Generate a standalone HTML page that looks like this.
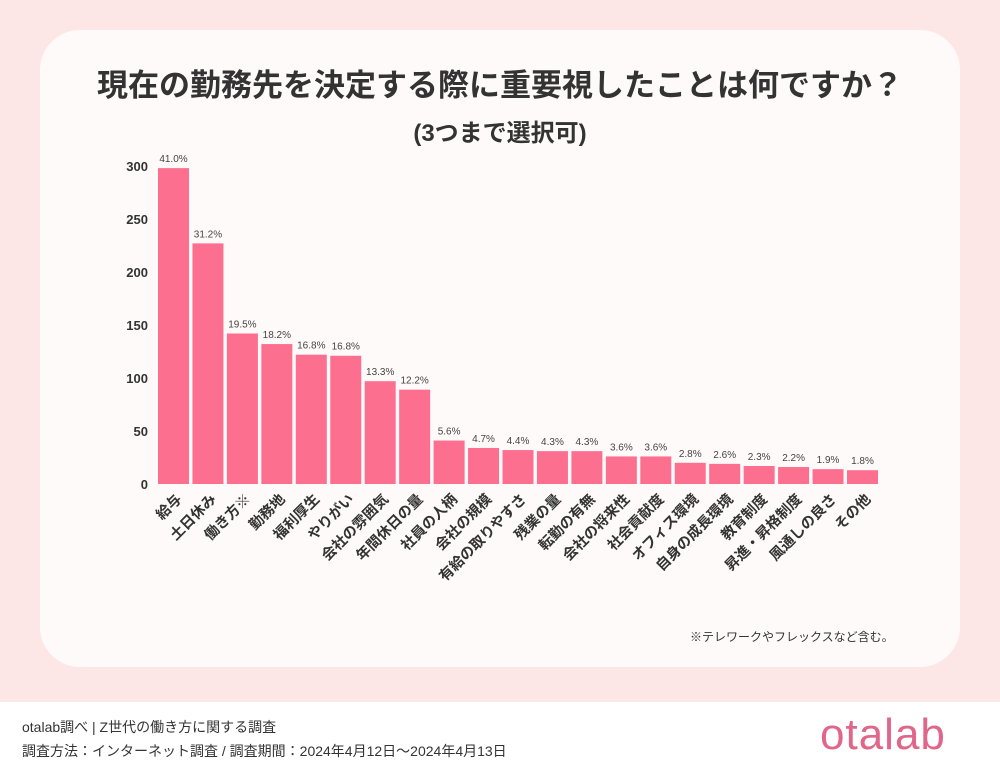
<!DOCTYPE html>
<html><head><meta charset="utf-8"><style>
body{margin:0;width:1000px;height:773px;overflow:hidden;background:#fff;font-family:"Liberation Sans","Noto Sans CJK JP",sans-serif}
#bg{position:absolute;left:0;top:0;width:1000px;height:702px;background:#fde6e6}
#card{position:absolute;left:40px;top:30px;width:920px;height:637px;background:#fffafa;border-radius:40px}
.t{position:absolute;width:1000px;text-align:center;font-weight:bold;color:#333}
.foot{position:absolute;left:22px;font-size:14px;color:#333}
</style></head><body>
<div id="bg"></div>
<div id="card"></div>
<div class="t" style="top:60px;font-size:31px">現在の勤務先を決定する際に重要視したことは何ですか？</div>
<div class="t" style="top:113px;font-size:24px">(3つまで選択可)</div>
<svg id="c" width="1000" height="773" style="position:absolute;left:0;top:0"></svg>
<div style="position:absolute;left:690px;top:628px;font-size:12px;color:#333">※テレワークやフレックスなど含む。</div>
<div class="foot" style="top:717px">otalab調べ | Z世代の働き方に関する調査</div>
<div class="foot" style="top:741px">調査方法：インターネット調査 / 調査期間：2024年4月12日〜2024年4月13日</div>
<div style="position:absolute;left:820px;top:710px;font-size:44px;color:#e0668a;letter-spacing:1px">otalab</div>
<script>
const labels=["給与","土日休み","働き方※","勤務地","福利厚生","やりがい","会社の雰囲気","年間休日の量","社員の人柄","会社の規模","有給の取りやすさ","残業の量","転勤の有無","会社の将来性","社会貢献度","オフィス環境","自身の成長環境","教育制度","昇進・昇格制度","風通しの良さ","その他"];
const vals=[298,227,142,132,122,121,97,89,41,34,32,31,31,26,26,20,19,17,16,14,13];
const pcts=["41.0%","31.2%","19.5%","18.2%","16.8%","16.8%","13.3%","12.2%","5.6%","4.7%","4.4%","4.3%","4.3%","3.6%","3.6%","2.8%","2.6%","2.3%","2.2%","1.9%","1.8%"];
const yTicks=[0,50,100,150,200,250,300];
const svg=document.getElementById('c'),NS='http://www.w3.org/2000/svg';
const y0=484,k=1.06,x0=158,bw=31;
const y=v=>y0-v*k, x=i=>x0+i*((878-158-bw)/(vals.length-1));
function mk(t,a){const e=document.createElementNS(NS,t);for(const n in a)e.setAttribute(n,a[n]);svg.appendChild(e);return e;}
yTicks.forEach(t=>{const e=mk('text',{x:148,y:y(t)+5,'text-anchor':'end','font-size':13,'font-weight':'bold',fill:'#333'});e.textContent=t;

});
vals.forEach((v,i)=>{const b=mk('rect',{x:x(i),y:y(v),width:bw,height:v*k,fill:'#fd6f8e'});


const p=mk('text',{x:x(i)+bw/2,y:y(v)-6,'text-anchor':'middle','font-size':10,fill:'#444'});p.textContent=pcts[i];


const cx=x(i)+bw/2+9,cy=500;
const l=mk('text',{x:cx,y:cy,'text-anchor':'end','font-size':14.5,'font-weight':'bold',fill:'#333',transform:`rotate(-45 ${cx} ${cy})`});l.textContent=labels[i];

});
</script>
</body></html>
